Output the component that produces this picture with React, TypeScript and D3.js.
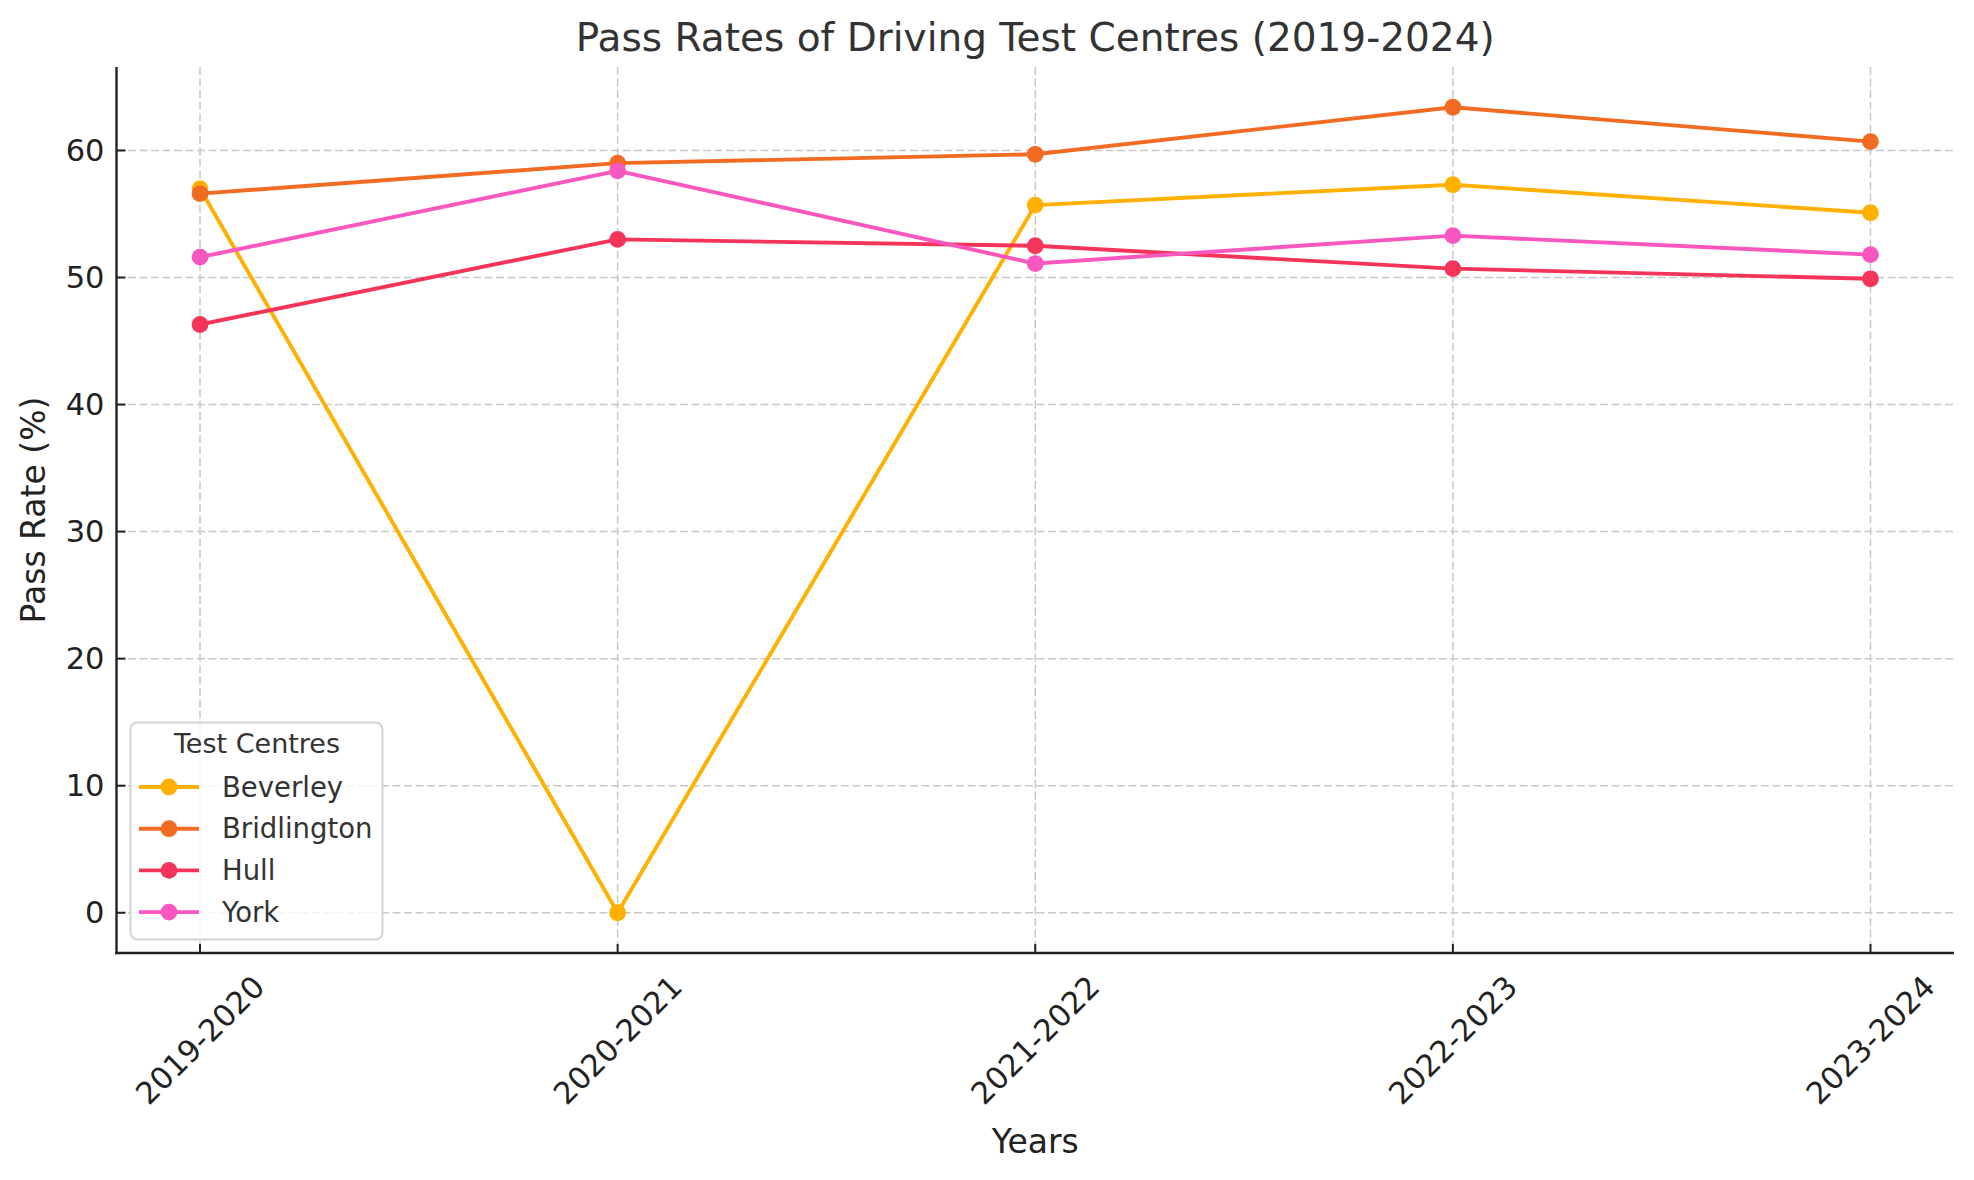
import React from "react";
import * as d3 from "d3";

const years = ["2019-2020", "2020-2021", "2021-2022", "2022-2023", "2023-2024"];
const centres = ["Beverley", "Bridlington", "Hull", "York"];
const beverley = [57.0, 0, 55.7, 57.3, 55.1];
const bridlington = [56.6, 59.0, 59.7, 63.4, 60.7];
const hull = [46.3, 53.0, 52.5, 50.7, 49.9];
const york = [51.6, 58.4, 51.1, 53.3, 51.8];
const yTicks = [0, 10, 20, 30, 40, 50, 60];
const colors = ["#ffb000", "#f26b22", "#f5345a", "#f857c0"];

const W = 1974;
const H = 1180;
const margin = { left: 116.5, right: 20, top: 67, bottom: 227 };
const FONT = "DejaVu Sans, sans-serif";

export default function App() {
  const series = [beverley, bridlington, hull, york];
  const allVals = series.flat();
  const lo = d3.min(allVals)!;
  const hi = d3.max(allVals)!;
  const pad = (hi - lo) * 0.05;

  const x = d3
    .scalePoint<string>()
    .domain(years)
    .range([margin.left, W - margin.right])
    .padding(0.2);
  const y = d3
    .scaleLinear()
    .domain([lo - pad, hi + pad])
    .range([H - margin.bottom, margin.top]);

  const line = d3
    .line<number>()
    .x((_, i) => x(years[i])!)
    .y((d) => y(d));

  const bottom = H - margin.bottom;
  const left = margin.left;
  const right = W - margin.right;
  const midX = (left + right) / 2;
  const midY = (margin.top + bottom) / 2;

  // legend placement
  const lgX = 130.5;
  const lgY = 722.5;
  const lgRowY = (i: number) => 787 + i * 41.7;

  return (
    <div style={{ position: "absolute", left: 0, top: 0 }}>
      <svg width={W} height={H} style={{ display: "block", background: "#fff" }} fontFamily={FONT}>
        {/* grid */}
        {yTicks.map((t) => (
          <line key={"gy" + t} x1={left} x2={right} y1={y(t)} y2={y(t)}
            stroke="#c8c8c8" strokeWidth={1.5} strokeDasharray="8,3.5" />
        ))}
        {years.map((yr) => (
          <line key={"gx" + yr} x1={x(yr)} x2={x(yr)} y1={margin.top} y2={bottom}
            stroke="#c8c8c8" strokeWidth={1.5} strokeDasharray="8,3.5" />
        ))}

        {/* series */}
        {series.map((vals, si) => (
          <g key={centres[si]}>
            <path d={line(vals)!} fill="none" stroke={colors[si]} strokeWidth={3.9} strokeLinejoin="round" />
            {vals.map((v, i) => (
              <circle key={i} cx={x(years[i])} cy={y(v)} r={8.4} fill={colors[si]} />
            ))}
          </g>
        ))}

        {/* axes spines */}
        <line x1={left} x2={left} y1={margin.top} y2={bottom + 1.2} stroke="#222" strokeWidth={2.4} />
        <line x1={left - 1.2} x2={right} y1={bottom} y2={bottom} stroke="#222" strokeWidth={2.4} />

        {/* y ticks */}
        {yTicks.map((t) => (
          <g key={"yt" + t}>
            <line x1={left} x2={left + 9} y1={y(t)} y2={y(t)} stroke="#222" strokeWidth={2} />
            <text x={left - 12} y={y(t)} dy="0.35em" textAnchor="end" fontSize={30.5} fill="#222">
              {t}
            </text>
          </g>
        ))}

        {/* x ticks */}
        {years.map((yr) => (
          <g key={"xt" + yr}>
            <line x1={x(yr)} x2={x(yr)} y1={bottom} y2={bottom - 9} stroke="#222" strokeWidth={2} />
            <text
              transform={`translate(${x(yr)},${bottom + 87}) rotate(-45)`}
              textAnchor="middle"
              dy="0.35em"
              fontSize={30.5}
              fill="#222"
            >
              {yr}
            </text>
          </g>
        ))}

        {/* labels */}
        <text x={midX} y={1141} dy="0.35em" textAnchor="middle" fontSize={33} fill="#222">
          Years
        </text>
        <text transform={`translate(33,${midY}) rotate(-90)`} dy="0.35em" textAnchor="middle" fontSize={33} fill="#222">
          Pass Rate (%)
        </text>
        <text x={midX} y={37} dy="0.35em" textAnchor="middle" fontSize={39} fill="#333">
          Pass Rates of Driving Test Centres (2019-2024)
        </text>

        {/* legend */}
        <rect x={lgX} y={lgY} width={252} height={217} rx={7} fill="#fff" fillOpacity={0.8}
          stroke="#d4d4d4" strokeWidth={2} />
        <text x={lgX + 126.5} y={744} dy="0.35em" textAnchor="middle" fontSize={27} fill="#333">
          Test Centres
        </text>
        {centres.map((c, i) => (
          <g key={"lg" + c}>
            <line x1={139} x2={199} y1={lgRowY(i)} y2={lgRowY(i)} stroke={colors[i]} strokeWidth={3.9} />
            <circle cx={169} cy={lgRowY(i)} r={8.4} fill={colors[i]} />
            <text x={222} y={lgRowY(i)} dy="0.35em" fontSize={27.5} fill="#333">
              {c}
            </text>
          </g>
        ))}
      </svg>
    </div>
  );
}
